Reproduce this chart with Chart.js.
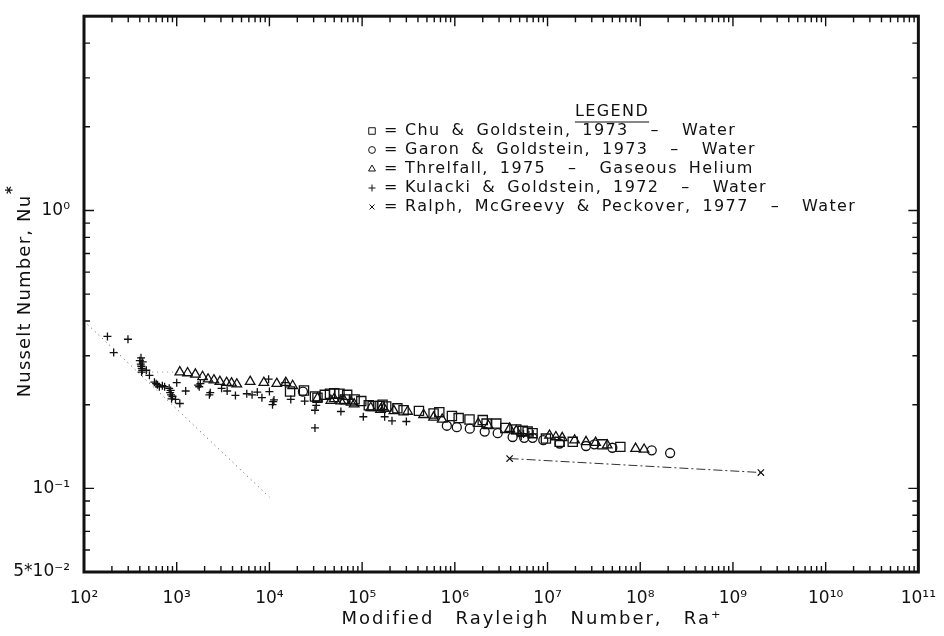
<!DOCTYPE html>
<html>
<head>
<meta charset="utf-8">
<script src="https://cdn.jsdelivr.net/npm/chart.js@4.4.1/dist/chart.umd.min.js"></script>
<style>
  html, body { margin: 0; padding: 0; background: #fff; }
</style>
</head>
<body>
<canvas id="chart" width="944" height="636"></canvas>
<script>
/* Nu* vs modified Rayleigh number, log-log scatter */
var INK = "#111";
var FONT = "'DejaVu Sans', sans-serif";

var X_TICKS = [1e2, 1e3, 1e4, 1e5, 1e6, 1e7, 1e8, 1e9, 1e10, 1e11];
var X_LABELS = ["10²", "10³", "10⁴", "10⁵", "10⁶", "10⁷", "10⁸", "10⁹", "10¹⁰", "10¹¹"];
var Y_TICKS = [0.05, 0.1, 1];
var Y_LABELS = ["5*10⁻²", "10⁻¹", "10⁰"];

// Chu & Goldstein, 1973 - Water (squares)
var CHU_X = [1.67e4, 2.36e4, 3.1e4, 3.3e4, 3.95e4, 4.5e4, 5.0e4, 5.7e4, 6.9e4, 6.5e4, 8.3e4, 9.8e4,
  1.3e5, 1.66e5, 1.18e5, 1.55e5, 1.82e5, 2.4e5, 2.8e5, 4.1e5, 5.9e5, 6.8e5, 9.3e5, 1.1e6, 1.44e6,
  2.0e6, 2.2e6, 2.8e6, 3.5e6, 4.6e6, 5.4e6, 6.1e6, 6.9e6, 9.6e6, 1.35e7, 1.87e7, 3.9e7, 6.1e7];
var CHU_Y = [0.223, 0.225, 0.214, 0.212, 0.217, 0.219, 0.22, 0.219, 0.217, 0.209, 0.209, 0.206,
  0.198, 0.2, 0.199, 0.198, 0.197, 0.194, 0.191, 0.19, 0.186, 0.188, 0.182, 0.179, 0.177,
  0.176, 0.171, 0.171, 0.165, 0.163, 0.161, 0.16, 0.158, 0.151, 0.147, 0.147, 0.144, 0.141];

// Garon & Goldstein, 1973 - Water (circles)
var GARON_X = [2.3e4, 8.2e5, 1.05e6, 1.45e6, 2.1e6, 2.9e6, 4.2e6, 5.6e6, 6.9e6, 9.0e6, 1.35e7,
  2.6e7, 3.2e7, 5.0e7, 1.33e8, 2.1e8];
var GARON_Y = [0.223, 0.168, 0.166, 0.164, 0.16, 0.158, 0.153, 0.152, 0.152, 0.149, 0.145,
  0.142, 0.144, 0.14, 0.137, 0.134];

// Threlfall, 1975 - Gaseous Helium (triangles)
var THREL_X = [1.08e3, 1.31e3, 1.59e3, 1.9e3, 2.18e3, 2.52e3, 2.92e3, 3.45e3, 3.9e3, 4.45e3, 6.2e3,
  8.7e3, 1.2e4, 1.5e4, 1.78e4, 3.3e4, 4.6e4, 5e4, 5.9e4, 6.4e4, 7.6e4, 8.2e4, 1.24e5, 1.58e5,
  1.72e5, 2.2e5, 3.1e5, 4.6e5, 5.9e5, 7.3e5, 1.79e6, 2.3e6, 3.9e6, 4.6e6, 1.05e7, 1.23e7, 1.44e7,
  1.96e7, 2.6e7, 3.3e7, 4.4e7, 8.9e7, 1.1e8];
var THREL_Y = [0.262, 0.26, 0.257, 0.252, 0.247, 0.245, 0.242, 0.24, 0.239, 0.237, 0.242,
  0.24, 0.238, 0.24, 0.234, 0.211, 0.207, 0.21, 0.206, 0.207, 0.204, 0.201, 0.195, 0.192,
  0.194, 0.19, 0.189, 0.184, 0.18, 0.177, 0.171, 0.168, 0.164, 0.161, 0.155, 0.153, 0.152,
  0.149, 0.147, 0.146, 0.143, 0.139, 0.138];

// Kulacki & Goldstein, 1972 - Water (plus)
var KUL_X = [179, 209, 298, 400, 410, 415, 420, 425, 430, 412, 418, 470, 508, 575, 600, 620, 650,
  700, 740, 830, 850, 870, 880, 900, 860, 1000, 970, 1080, 1250, 1700, 1750, 1800, 2300, 2250,
  3050, 3500, 4300, 5700, 6500, 7400, 8300, 9800, 1e4, 1.1e4, 1.08e4, 1.12e4, 1.48e4, 1.7e4,
  2.4e4, 3.2e4, 3.1e4, 3.1e4, 5.9e4, 1.03e5, 1.75e5, 2.1e5, 3.0e5, 4.8e6, 5.2e6, 5.5e6, 6.3e6, 7.0e6];
var KUL_Y = [0.352, 0.308, 0.344, 0.288, 0.28, 0.275, 0.27, 0.266, 0.285, 0.295, 0.262, 0.266,
  0.255, 0.241, 0.238, 0.236, 0.232, 0.234, 0.232, 0.229, 0.221, 0.217, 0.21, 0.214, 0.225,
  0.24, 0.209, 0.202, 0.224, 0.235, 0.232, 0.238, 0.221, 0.217, 0.229, 0.224, 0.216, 0.219,
  0.217, 0.222, 0.212, 0.247, 0.223, 0.205, 0.2, 0.208, 0.24, 0.209, 0.206, 0.199, 0.191,
  0.165, 0.189, 0.181, 0.181, 0.175, 0.174, 0.158, 0.154, 0.157, 0.156, 0.157];

// Ralph, McGreevy & Peckover, 1977 - Water (x, joined)
var RALPH_X = [3.9e6, 2.0e9];
var RALPH_Y = [0.128, 0.114];

// dotted reference lines
var STEEP_X = [1e2, 1e4];
var STEEP_Y = [0.40, 0.093];
var FLAT_X = [480, 1080];
var FLAT_Y = [0.262, 0.262];

var LEGEND_TEXT = [
  "Chu & Goldstein, 1973  –  Water",
  "Garon & Goldstein, 1973  –  Water",
  "Threlfall, 1975  –  Gaseous Helium",
  "Kulacki & Goldstein, 1972  –  Water",
  "Ralph, McGreevy & Peckover, 1977  –  Water"
];
var LEGEND_STYLE = [
  { pointStyle: "rect", radius: 4.6 },
  { pointStyle: "circle", radius: 3.4 },
  { pointStyle: "triangle", radius: 4 },
  { pointStyle: "cross", radius: 3.5 },
  { pointStyle: "crossRot", radius: 3.5 }
];

function pts(xs, ys) {
  return xs.map(function (x, i) {
    return { x: x, y: ys[i] };
  });
}

function marker(label, xs, ys, style, r) {
  return {
    label: label,
    data: pts(xs, ys),
    showLine: false,
    pointStyle: style,
    pointRadius: r,
    pointBorderWidth: 1.3,
    pointBorderColor: INK,
    pointBackgroundColor: "rgba(0,0,0,0)"
  };
}

// word spacing that stretches text to the given width
function wordGapFor(ctx, text, width) {
  ctx.wordSpacing = "0px";
  var w = ctx.measureText(text).width;
  var gaps = text.split(" ").length - 1;
  return gaps ? Math.max(0, (width - w) / gaps) : 0;
}

var frame = {
  id: "frame",
  afterDatasetsDraw: function (chart) {
    var ctx = chart.ctx;
    var a = chart.chartArea;
    var xs = chart.scales.x;
    var ys = chart.scales.y;
    var e, m, v, p, len, g;
    ctx.save();
    ctx.strokeStyle = INK;
    ctx.lineWidth = 1.4;
    ctx.beginPath();
    for (e = 2; e < 11; e++) {
      for (m = 1; m <= 9; m++) {
        v = m * Math.pow(10, e);
        p = xs.getPixelForValue(v);
        len = m === 1 ? 10 : 6;
        ctx.moveTo(p, a.bottom);
        ctx.lineTo(p, a.bottom - len);
        ctx.moveTo(p, a.top);
        ctx.lineTo(p, a.top + len);
      }
    }
    for (e = -2; e <= 0; e++) {
      for (m = 1; m <= 9; m++) {
        v = m * Math.pow(10, e);
        if (v <= 0.05 || v >= 5) continue;
        p = ys.getPixelForValue(v);
        len = m === 1 ? 10 : 6;
        ctx.moveTo(a.left, p);
        ctx.lineTo(a.left + len, p);
        ctx.moveTo(a.right, p);
        ctx.lineTo(a.right - len, p);
      }
    }
    ctx.stroke();
    ctx.lineWidth = 3;
    ctx.strokeRect(a.left, a.top, a.right - a.left, a.bottom - a.top);

    // axis titles
    ctx.fillStyle = INK;
    ctx.textAlign = "center";
    ctx.textBaseline = "middle";
    ctx.font = "18px " + FONT;
    ctx.letterSpacing = "2px";
    var xt = "Modified Rayleigh Number, Ra⁺";
    g = wordGapFor(ctx, xt, 381);
    ctx.wordSpacing = g + "px";
    ctx.fillText(xt, 532, 619);

    ctx.save();
    ctx.translate(25, 296);
    ctx.rotate(-Math.PI / 2);
    ctx.letterSpacing = "1.2px";
    var yt = "Nusselt Number, Nu";
    g = wordGapFor(ctx, yt, 202);
    ctx.wordSpacing = g + "px";
    ctx.fillText(yt, 0, 0);
    ctx.wordSpacing = "0px";
    ctx.letterSpacing = "0px";
    ctx.font = "bold 15px " + FONT;
    ctx.fillText("*", 106, -12);
    ctx.restore();

    // legend block
    ctx.font = "16px " + FONT;
    ctx.letterSpacing = "1.4px";
    ctx.wordSpacing = "0px";
    ctx.textAlign = "center";
    ctx.fillText("LEGEND", 612, 112);
    var lw = ctx.measureText("LEGEND").width;
    ctx.lineWidth = 1.2;
    ctx.beginPath();
    ctx.moveTo(612 - lw / 2, 122);
    ctx.lineTo(612 + lw / 2, 122);
    ctx.stroke();
    ctx.textAlign = "left";
    g = wordGapFor(ctx, LEGEND_TEXT[3], 362);
    for (var i = 0; i < LEGEND_TEXT.length; i++) {
      var ly = 131 + i * 19;
      ctx.lineWidth = 1;
      ctx.strokeStyle = INK;
      ctx.fillStyle = "rgba(0,0,0,0)";
      Chart.helpers.drawPoint(ctx, {
        pointStyle: LEGEND_STYLE[i].pointStyle,
        radius: LEGEND_STYLE[i].radius,
        rotation: 0,
        borderWidth: 1
      }, 372, ly);
      ctx.fillStyle = INK;
      ctx.wordSpacing = "0px";
      ctx.fillText("=", 384, ly);
      ctx.wordSpacing = g + "px";
      ctx.fillText(LEGEND_TEXT[i], 405, ly);
    }
    ctx.restore();
  }
};

new Chart(document.getElementById("chart"), {
  type: "scatter",
  data: {
    datasets: [
      marker("Chu & Goldstein, 1973 - Water", CHU_X, CHU_Y, "rect", 6.5),
      marker("Garon & Goldstein, 1973 - Water", GARON_X, GARON_Y, "circle", 4.5),
      marker("Threlfall, 1975 - Gaseous Helium", THREL_X, THREL_Y, "triangle", 5.5),
      marker("Kulacki & Goldstein, 1972 - Water", KUL_X, KUL_Y, "cross", 4),
      {
        label: "Ralph, McGreevy & Peckover, 1977 - Water",
        data: pts(RALPH_X, RALPH_Y),
        showLine: true,
        borderColor: "#333",
        borderWidth: 1,
        borderDash: [9, 3, 2, 3],
        pointStyle: "crossRot",
        pointRadius: 4.5,
        pointBorderWidth: 1.2,
        pointBorderColor: INK
      },
      {
        label: "steep",
        data: pts(STEEP_X, STEEP_Y),
        showLine: true,
        borderColor: "#555",
        borderWidth: 1,
        borderDash: [1, 4],
        pointRadius: 0
      },
      {
        label: "flat",
        data: pts(FLAT_X, FLAT_Y),
        showLine: true,
        borderColor: "#888",
        borderWidth: 1,
        borderDash: [1, 4],
        pointRadius: 0
      }
    ]
  },
  options: {
    responsive: false,
    animation: false,
    layout: { padding: { top: 5, right: 18, left: 0, bottom: 0 } },
    plugins: {
      legend: { display: false },
      tooltip: { enabled: false }
    },
    scales: {
      x: {
        type: "logarithmic",
        min: 1e2,
        max: 1e11,
        afterBuildTicks: function (s) {
          s.ticks = X_TICKS.map(function (v) { return { value: v }; });
        },
        afterFit: function (s) { s.height = 64; },
        grid: { display: false },
        border: { display: false },
        ticks: {
          autoSkip: false,
          maxRotation: 0,
          padding: 8,
          color: INK,
          font: { family: FONT, size: 17 },
          callback: function (v, i) { return X_LABELS[i]; }
        }
      },
      y: {
        type: "logarithmic",
        min: 0.05,
        max: 5,
        afterBuildTicks: function (s) {
          s.ticks = Y_TICKS.map(function (v) { return { value: v }; });
        },
        afterFit: function (s) { s.width = 84; },
        grid: { display: false },
        border: { display: false },
        ticks: {
          autoSkip: false,
          padding: 6,
          color: INK,
          font: { family: FONT, size: 17 },
          callback: function (v, i) { return Y_LABELS[i]; }
        }
      }
    }
  },
  plugins: [frame]
});
</script>
</body>
</html>
